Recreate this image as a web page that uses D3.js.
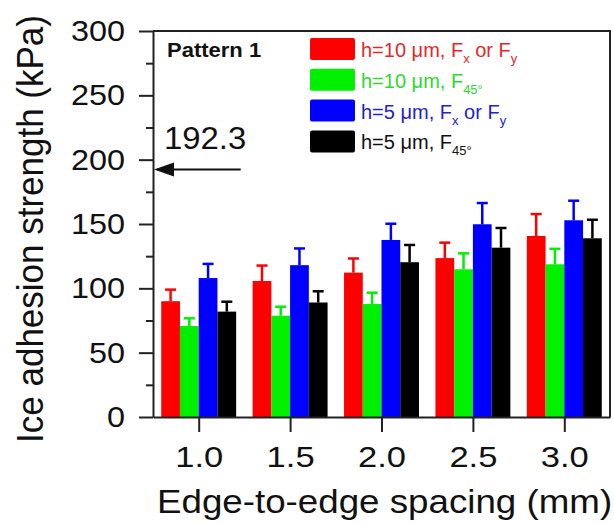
<!DOCTYPE html>
<html>
<head>
<meta charset="utf-8">
<script src="https://cdn.jsdelivr.net/npm/d3@7"></script>
<style>
  body { margin: 0; background: #fff; }
  text { font-family: "Liberation Sans", Arial, sans-serif; }
</style>
</head>
<body>
<div id="chart"></div>
<script>
// spacing categories (mm)
let spacing = [1.0, 1.5, 2.0, 2.5, 3.0];

// ice adhesion strength (kPa) with upper error
let h10Fxy = [90, 105.7, 112.2, 123.5, 140.7];
let h10Fxy_err = [9, 12, 11, 12, 17];
let h10F45 = [70.7, 78.7, 87.8, 114.8, 118.7];
let h10F45_err = [6, 7, 8.8, 12.4, 12];
let h5Fxy = [108, 118, 137.6, 149.8, 152.9];
let h5Fxy_err = [11, 13, 12.6, 16.5, 15.2];
let h5F45 = [81.9, 89, 120.3, 131.6, 138.9];
let h5F45_err = [7.7, 8.7, 13.4, 15.3, 14.4];

let yTicks = [0, 50, 100, 150, 200, 250, 300];
let refValue = 192.3;

let width = 614;
let height = 524;
let margin = { left: 153, right: 4, top: 31, bottom: 107 };

let svg = d3.select("#chart")
    .append("svg")
    .attr("width", width)
    .attr("height", height);

let xScale = d3.scaleLinear()
    .domain([0.75, 3.25])
    .range([margin.left, width - margin.right]);

let yScale = d3.scaleLinear()
    .domain([0, 300])
    .range([height - margin.bottom, margin.top]);

// the source figure has slightly wide lettering
function stretch(sel, k) {
    sel.each(function () {
        let len = this.getComputedTextLength();
        d3.select(this)
            .attr("textLength", len * k)
            .attr("lengthAdjust", "spacingAndGlyphs");
    });
}

let series = [
    { values: h10Fxy, err: h10Fxy_err, fill: "#ff0000" },
    { values: h10F45, err: h10F45_err, fill: "#00f000" },
    { values: h5Fxy, err: h5Fxy_err, fill: "#0000ff" },
    { values: h5F45, err: h5F45_err, fill: "#000000" }
];

let barW = 0.1025; // in x units

/* bars + error bars */
series.forEach(function (s, si) {
    let off = (si - 2) * barW;
    let g = svg.append("g");
    g.selectAll("rect")
        .data(spacing)
        .enter()
        .append("rect")
        .attr("x", function (d) { return xScale(d + off); })
        .attr("width", xScale(barW) - xScale(0))
        .attr("y", function (d, i) { return yScale(s.values[i]); })
        .attr("height", function (d, i) { return yScale(0) - yScale(s.values[i]); })
        .attr("fill", s.fill);

    let cx = function (d) { return xScale(d + off + barW / 2); };
    g.selectAll("line.eb")
        .data(spacing)
        .enter()
        .append("line")
        .attr("x1", cx).attr("x2", cx)
        .attr("y1", function (d, i) { return yScale(s.values[i]); })
        .attr("y2", function (d, i) { return yScale(s.values[i] + s.err[i]); })
        .attr("stroke", s.fill)
        .attr("stroke-width", 2.5);
    g.selectAll("line.cap")
        .data(spacing)
        .enter()
        .append("line")
        .attr("x1", function (d) { return cx(d) - 5.5; })
        .attr("x2", function (d) { return cx(d) + 5.5; })
        .attr("y1", function (d, i) { return yScale(s.values[i] + s.err[i]); })
        .attr("y2", function (d, i) { return yScale(s.values[i] + s.err[i]); })
        .attr("stroke", s.fill)
        .attr("stroke-width", 2.5);
});

/* frame (top and right) */
svg.append("path")
    .attr("d", "M" + xScale(0.75) + "," + yScale(300) + "H" + xScale(3.25) + "V" + yScale(0))
    .attr("fill", "none")
    .attr("stroke", "#222")
    .attr("stroke-width", 2);

/* x axis */
let xAxis = d3.axisBottom(xScale)
    .tickValues(spacing)
    .tickFormat(d3.format(".1f"))
    .tickSizeInner(15)
    .tickSizeOuter(0)
    .tickPadding(14);

let gx = svg.append("g")
    .attr("transform", "translate(0," + yScale(0) + ")")
    .call(xAxis);

/* y axis */
let yAxis = d3.axisLeft(yScale)
    .tickValues(yTicks)
    .tickSizeInner(14)
    .tickSizeOuter(0)
    .tickPadding(14);

let gy = svg.append("g")
    .attr("transform", "translate(" + xScale(0.75) + ",0)")
    .call(yAxis);

// minor ticks
let yMinor = d3.axisLeft(yScale)
    .tickValues(d3.range(25, 300, 50))
    .tickSize(7)
    .tickFormat("");
svg.append("g")
    .attr("transform", "translate(" + xScale(0.75) + ",0)")
    .call(yMinor)
    .select(".domain").remove();

svg.selectAll(".domain, .tick line")
    .attr("stroke", "#222")
    .attr("stroke-width", 2);

gx.selectAll("text")
    .attr("font-size", 30)
    .attr("fill", "#111")
    .attr("font-family", "Liberation Sans, Arial, sans-serif")
    .call(stretch, 1.15);
gy.selectAll("text")
    .attr("font-size", 30)
    .attr("fill", "#111")
    .attr("font-family", "Liberation Sans, Arial, sans-serif")
    .call(stretch, 1.08);

/* axis titles */
svg.append("text")
    .attr("x", 157)
    .attr("y", 513)
    .attr("font-size", 34)
    .attr("fill", "#111")
    .text("Edge-to-edge spacing (mm)")
    .call(stretch, 1.08);

svg.append("text")
    .attr("transform", "translate(43," + 229 + ") rotate(-90) scale(1,1.08)")
    .attr("text-anchor", "middle")
    .attr("font-size", 35)
    .attr("fill", "#111")
    .text("Ice adhesion strength (kPa)");

/* reference arrow */
svg.append("line")
    .attr("x1", xScale(0.75) + 4)
    .attr("x2", xScale(1.23))
    .attr("y1", yScale(refValue))
    .attr("y2", yScale(refValue))
    .attr("stroke", "#111")
    .attr("stroke-width", 2);

svg.append("path")
    .attr("d", "M" + (xScale(0.75) + 1) + "," + yScale(refValue) +
        "l20,-7v14z")
    .attr("fill", "#111");

svg.append("text")
    .attr("x", 164)
    .attr("y", yScale(refValue) - 21)
    .attr("font-size", 31)
    .attr("fill", "#111")
    .text(refValue)
    .call(stretch, 1.06);

/* pattern label */
svg.append("text")
    .attr("x", 167)
    .attr("y", 57)
    .attr("font-size", 20)
    .attr("font-weight", "bold")
    .attr("fill", "#111")
    .text("Pattern 1")
    .call(stretch, 1.1);

/* legend */
let legendItems = [
    { fill: "#ff0000", color: "#e02a2a", main: "h=10 \u03bcm, F", parts: [["x", true], [" or F", false], ["y", true]] },
    { fill: "#00f000", color: "#2fd82f", main: "h=10 \u03bcm, F", parts: [["45\u00b0", true]] },
    { fill: "#0000ff", color: "#2323c8", main: "h=5 \u03bcm, F", parts: [["x", true], [" or F", false], ["y", true]] },
    { fill: "#000000", color: "#111111", main: "h=5 \u03bcm, F", parts: [["45\u00b0", true]] }
];

let lg = svg.append("g");
legendItems.forEach(function (it, i) {
    let cy = 49 + i * 30.8;
    lg.append("rect")
        .attr("x", 310)
        .attr("y", cy - 11)
        .attr("width", 45)
        .attr("height", 22)
        .attr("rx", 2)
        .attr("fill", it.fill);
    let t = lg.append("text")
        .attr("x", 361)
        .attr("y", cy + 8)
        .attr("font-size", 20)
        .attr("fill", it.color);
    t.append("tspan").text(it.main);
    it.parts.forEach(function (p) {
        if (p[1]) {
            t.append("tspan")
                .attr("font-size", 13)
                .attr("dy", 6)
                .text(p[0]);
        } else {
            t.append("tspan")
                .attr("dy", -6)
                .text(p[0]);
        }
    });
});
</script>
</body>
</html>
